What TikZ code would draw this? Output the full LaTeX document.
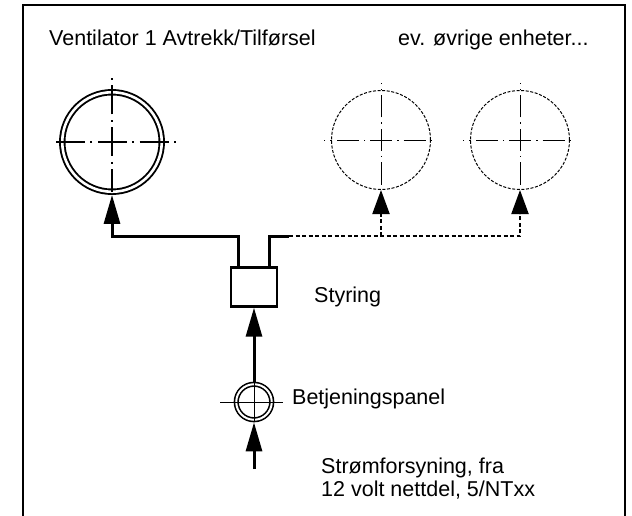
\documentclass[tikz,border=0pt]{standalone}
\usepackage{fontspec}
\setmainfont{Liberation Sans}
\usetikzlibrary{arrows.meta}
\begin{document}
\begin{tikzpicture}[x=1pt,y=-1pt,
  lbl/.style={anchor=base west, inner sep=0pt, font=\fontsize{21.5}{23.5}\selectfont},
  wire/.style={line width=3pt},
  optwire/.style={line width=2pt, dash pattern=on 4pt off 2.5pt},
  bigtip/.style={-{Triangle[length=29pt,width=16pt]}},
  smalltip/.style={-{Triangle[length=24pt,width=17pt]}},
  axis/.style={line width=1.1pt, dash pattern=on 29pt off 5.5pt on 2pt off 5.5pt, dash phase=14.5pt},
  axisthin/.style={line width=0.8pt, dash pattern=on 22pt off 5pt on 1.5pt off 5pt, dash phase=11pt},
  fanring/.style={circle, draw, line width=1.9pt, double, double distance=2.6pt,
    minimum size=99.5pt, inner sep=0pt, outer sep=3.2pt},
  unitring/.style={circle, draw, line width=1pt, dash pattern=on 3pt off 1.6pt,
    minimum size=99pt, inner sep=0pt, outer sep=0.5pt},
  panelring/.style={circle, draw, line width=1.6pt, double, double distance=2pt,
    minimum size=35.5pt, inner sep=0pt, outer sep=2.6pt},
  ctrlbox/.style={rectangle, draw, line width=2.4pt, minimum width=46pt,
    minimum height=39pt, inner sep=0pt, outer sep=1.2pt},
]
\useasboundingbox (0,0) rectangle (632,516);
\fill[white] (0,0) rectangle (632,516);

% open frame round the sheet
\draw[line width=2.5pt] (23,516) -- (23,5) -- (625,5) -- (625,516);

% headings
\node[lbl] (t1) at (49,46) {Ventilator 1 Avtrekk/Tilførsel};
\node[lbl] (t2) at (398,46) {ev. øvrige enheter...};

% fan 1 and the optional further units
\node[fanring] (fan) at (112,142) {};
\node[unitring] (u2) at (381,140) {};
\node[unitring] (u3) at (520,140) {};

% controller and control panel
\node[ctrlbox] (ctrl) at (254,287) {};
\node[panelring] (panel) at (254,402) {};
\node[lbl] (t3) at (314,302) {Styring};
\node[lbl] (t4) at (292,404) {Betjeningspanel};
\node[lbl] (t5) at (321,473) {Strømforsyning, fra};
\node[lbl] (t6) at (321,496.5) {12 volt nettdel, 5/NTxx};

% centre lines
\draw[axis] (fan.center) -- ++(-58,0);
\draw[axis] (fan.center) -- ++(66,0);
\draw[axis] (fan.center) -- ++(0,-68);
\draw[axis] (fan.center) -- ++(0,50);
\foreach \u in {u2,u3}{
  \draw[axisthin] (\u.center) -- ++(-57,0);
  \draw[axisthin] (\u.center) -- ++(55,0);
  \draw[axisthin] (\u.center) -- ++(0,-57);
  \draw[axisthin] (\u.center) -- ++(0,49);
}
\draw[line width=0.8pt] (panel.center) ++(-34,0) -- ++(63,0);
\draw[line width=0.8pt] (panel.north) -- (panel.south);

% junction points of the supply lines
\coordinate (jl) at (238,236);
\coordinate (jr) at (269,236);
\coordinate (jre) at (289,236);
\coordinate (feed) at (254,469);

% connections
\draw[wire, bigtip] (ctrl.north -| jl) -- (jl) -| (fan.south);
\draw[wire] (ctrl.north -| jr) -- (jr) -- (jre);
\draw[optwire, smalltip] (jre -| u2.south) -- (u2.south);
\draw[optwire, smalltip] (jre) -| (u3.south);
\draw[wire, bigtip] (panel.north) -- (ctrl.south);
\draw[wire, bigtip] (feed) -- (panel.south);
\end{tikzpicture}
\end{document}
